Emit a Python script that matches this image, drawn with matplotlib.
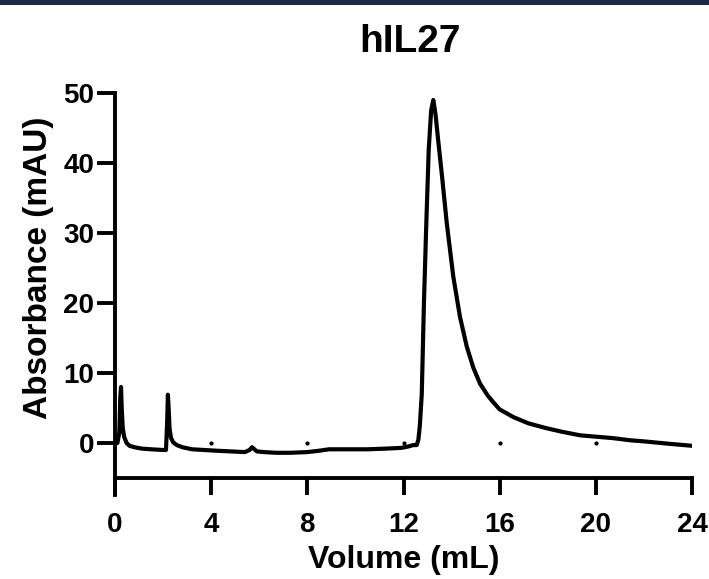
import matplotlib
matplotlib.use("Agg")
import matplotlib.pyplot as plt
from matplotlib.patches import Rectangle

# ---- data ----
volume_ml = [0.0, 0.1, 0.18, 0.22, 0.25, 0.28, 0.32, 0.38, 0.48, 0.6, 0.8, 1.1, 1.5, 2.0,
             2.12, 2.17, 2.2, 2.23, 2.27, 2.33, 2.42, 2.57, 2.8, 3.2, 3.7, 4.2, 4.8, 5.4,
             5.6, 5.7, 5.8, 5.9, 6.2, 6.7, 7.3, 8.0, 8.5, 8.9, 9.5, 10.5, 11.3, 11.9, 12.2,
             12.4, 12.55, 12.62, 12.68, 12.76, 12.85, 12.95, 13.05, 13.15, 13.24, 13.33,
             13.45, 13.6, 13.8, 14.07, 14.35, 14.63, 14.9, 15.18, 15.5, 15.74, 16.0, 16.57,
             17.2, 17.96, 18.6, 19.34, 20.0, 20.7, 21.4, 22.1, 23.0, 24.0]
absorbance_mau = [0.2, 0.0, 1.5, 6.5, 8.0, 5.0, 2.2, 0.9, 0.0, -0.4, -0.6, -0.8, -0.9, -1.0,
                  -1.0, 3.0, 6.9, 5.0, 2.0, 0.7, 0.1, -0.3, -0.6, -0.9, -1.0, -1.1, -1.2, -1.3,
                  -1.0, -0.6, -0.9, -1.2, -1.3, -1.4, -1.4, -1.3, -1.1, -0.9, -0.9, -0.9, -0.8,
                  -0.7, -0.5, -0.3, -0.3, 0.5, 2.5, 7.0, 20.0, 31.5, 42.0, 47.5, 49.0, 47.0,
                  43.0, 38.2, 31.4, 23.8, 18.0, 13.8, 10.8, 8.5, 6.8, 5.8, 4.8, 3.7,
                  2.8, 2.1, 1.6, 1.1, 0.9, 0.7, 0.4, 0.2, -0.1, -0.4]

dot_x = [4, 8, 12, 16, 20]
dot_y = [0, 0, 0, 0, 0]

x_ticks = [0, 4, 8, 12, 16, 20, 24]
y_ticks = [0, 10, 20, 30, 40, 50]

title = "hIL27"
x_label = "Volume (mL)"
y_label = "Absorbance (mAU)"

# ---- figure ----
plt.rcParams['font.family'] = ['Liberation Sans', 'DejaVu Sans']
plt.rcParams['font.weight'] = 'bold'

fig = plt.figure(figsize=(7.09, 5.79), dpi=100)
fig.patch.set_facecolor('white')
# thin dark bar at the top edge
fig.add_artist(Rectangle((0, 1 - 5 / 579), 1, 5 / 579, transform=fig.transFigure,
                         facecolor='#1b2a47', edgecolor='none'))

ax = fig.add_axes([115 / 709, 84 / 579, 577 / 709, 402 / 579])
ax.plot(volume_ml, absorbance_mau, color='black', lw=3.0, solid_joinstyle='round',
        solid_capstyle='round')
ax.scatter(dot_x, dot_y, s=4, color='black', zorder=3)

ax.set_xlim(0, 24)
ax.set_ylim(-7.43, 50)

for s in ['top', 'right']:
    ax.spines[s].set_visible(False)
ax.spines['left'].set_linewidth(2.8)
ax.spines['bottom'].set_linewidth(2.8)
ax.spines['bottom'].set_position(('data', -5))
ax.spines['left'].set_capstyle('projecting')
ax.spines['bottom'].set_capstyle('projecting')

ax.set_xticks(x_ticks)
ax.set_yticks(y_ticks)
ax.tick_params(axis='x', direction='out', length=12.2, width=2.8, pad=12, labelsize=20)
ax.tick_params(axis='y', direction='out', length=13, width=2.8, pad=2, labelsize=20)
for lbl in ax.get_xticklabels() + ax.get_yticklabels():
    lbl.set_fontweight('bold')

ax.set_xlabel(x_label, fontsize=23, fontweight='bold')
ax.xaxis.set_label_coords(0.501, -0.162)
ax.xaxis.label.set_va('center')
ax.set_ylabel(y_label, fontsize=24, fontweight='bold')
ax.yaxis.set_label_coords(-0.133, 0.565)
ax.yaxis.label.set_va('center')

ax.text(0.511, 1.127, title, transform=ax.transAxes, ha='center', va='center',
        fontsize=28, fontweight='bold')

fig.savefig('out.png', dpi=100, facecolor='white')
